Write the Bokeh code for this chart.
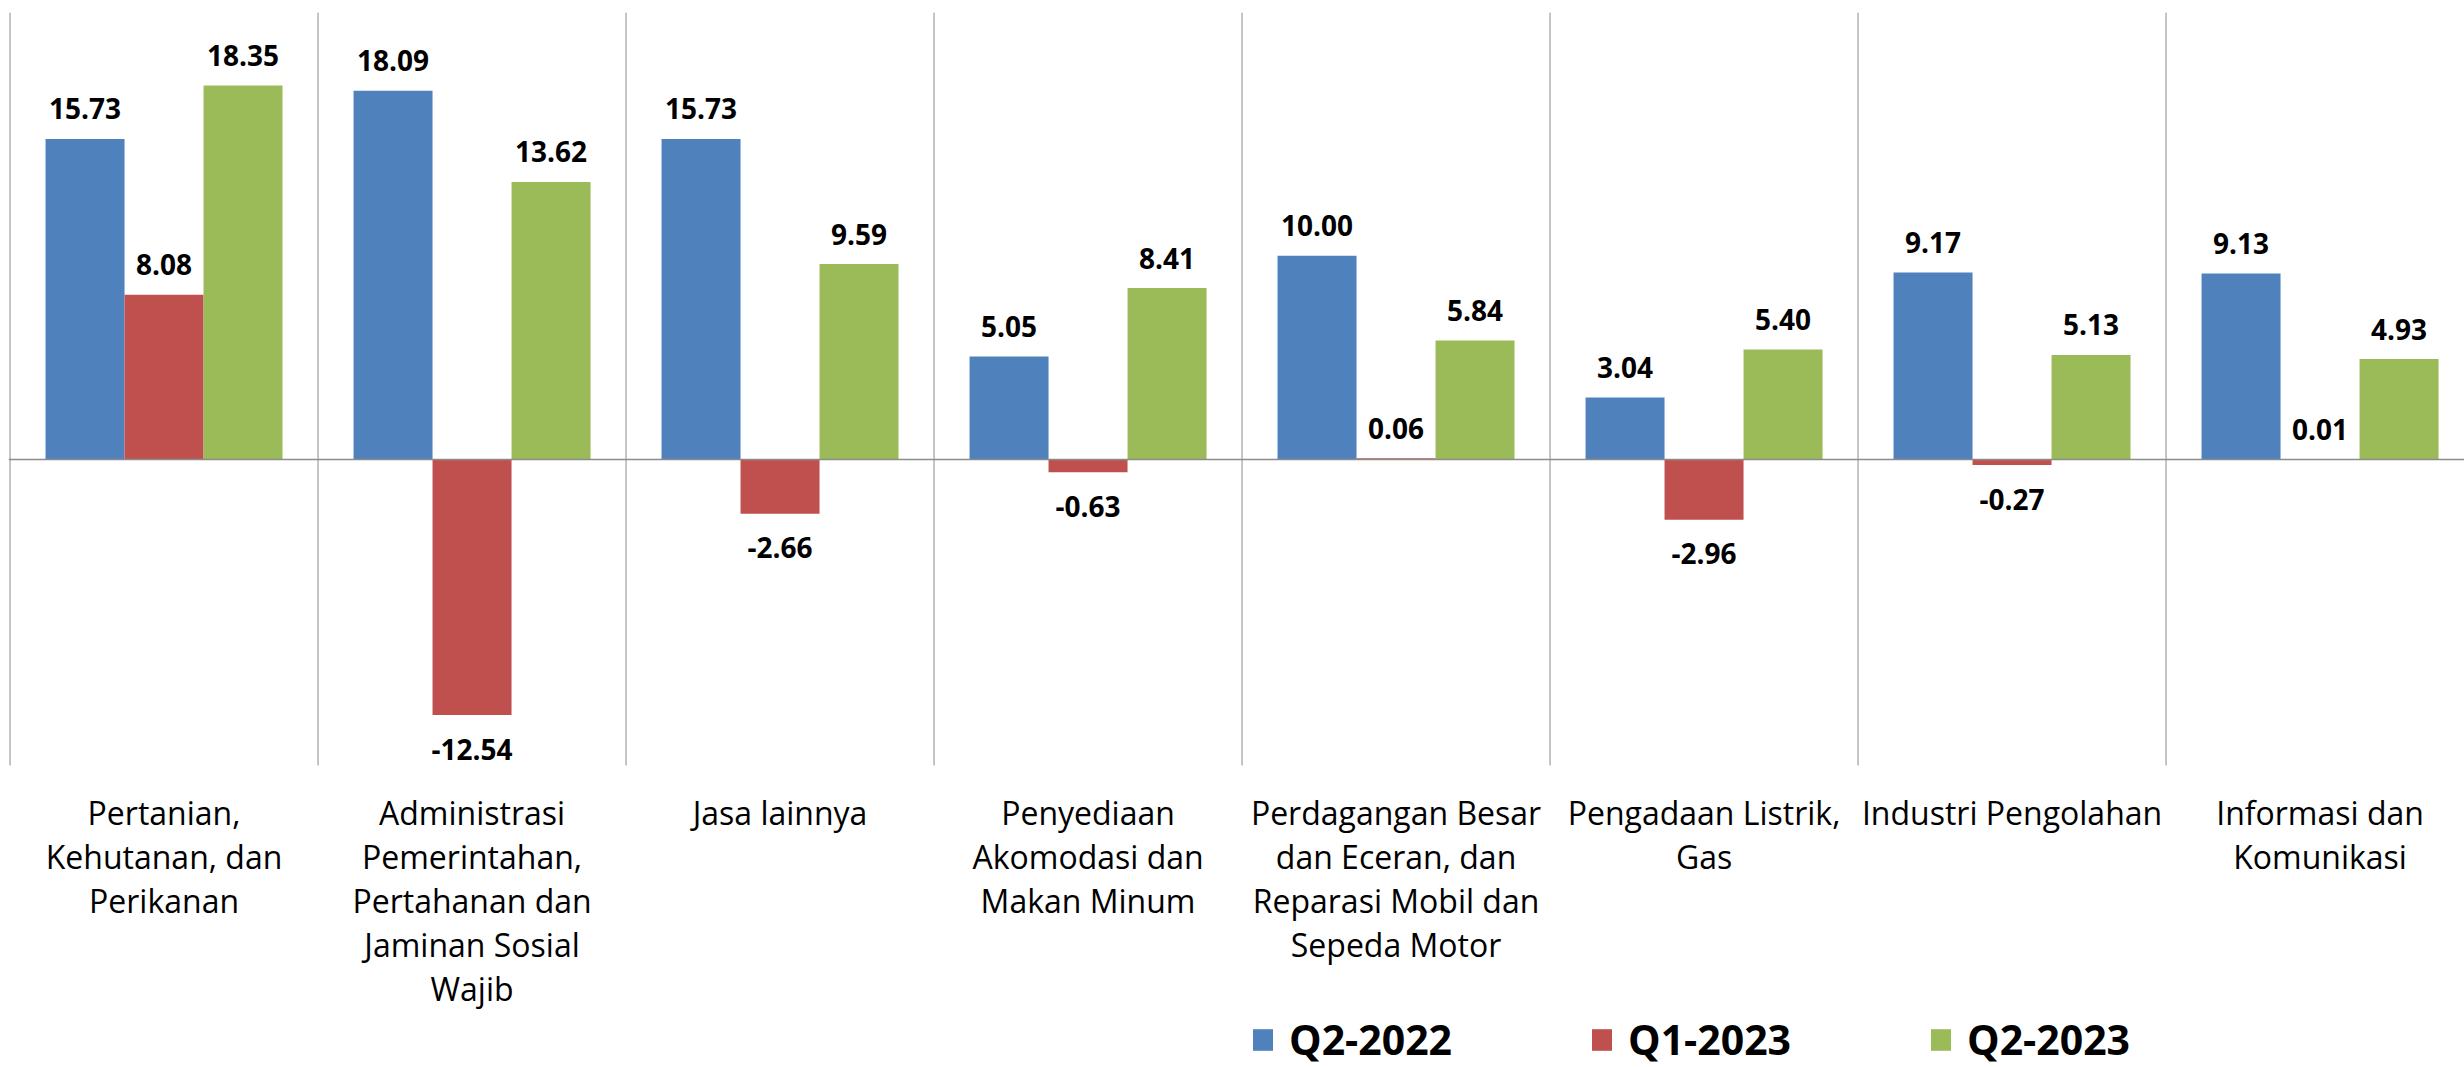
from bokeh.plotting import figure
from bokeh.models import ColumnDataSource, Legend, LegendItem, Range1d, Span
from bokeh.core.properties import value
from bokeh.embed import file_html
from bokeh.resources import INLINE

categories = [
    "Pertanian,\nKehutanan, dan\nPerikanan",
    "Administrasi\nPemerintahan,\nPertahanan dan\nJaminan Sosial\nWajib",
    "Jasa lainnya",
    "Penyediaan\nAkomodasi dan\nMakan Minum",
    "Perdagangan Besar\ndan Eceran, dan\nReparasi Mobil dan\nSepeda Motor",
    "Pengadaan Listrik,\nGas",
    "Industri Pengolahan",
    "Informasi dan\nKomunikasi",
]
series_names = ["Q2-2022", "Q1-2023", "Q2-2023"]
q2_2022 = [15.73, 18.09, 15.73, 5.05, 10.00, 3.04, 9.17, 9.13]
q1_2023 = [8.08, -12.54, -2.66, -0.63, 0.06, -2.96, -0.27, 0.01]
q2_2023 = [18.35, 13.62, 9.59, 8.41, 5.84, 5.40, 5.13, 4.93]
series_values = [q2_2022, q1_2023, q2_2023]
colors = ["#4F81BD", "#C0504D", "#9BBB59"]

# value-axis extent of the plotting area
Y_MIN, Y_MAX = -15.01, 21.93

FONT = "Open Sans"
W, H = 2464, 1067
LEFT = 8
CAT_PX = 308.0
PX_PER_UNIT = 20.38
ZERO_PX = 459.0
BAR_W = 0.2565
GRID = "#8C8C8C"

p = figure(
    width=W, height=H, output_backend="svg", toolbar_location=None,
    x_range=Range1d(0.495, 0.495 + (W - LEFT) / CAT_PX),
    y_range=Range1d(-(H - ZERO_PX) / PX_PER_UNIT, ZERO_PX / PX_PER_UNIT),
    x_axis_location=None, y_axis_location=None,
    min_border_left=LEFT, min_border_right=0, min_border_top=0, min_border_bottom=0,
    outline_line_color=None,
)
p.grid.visible = False

# category separators (and left axis line)
n = len(categories)
bounds = [0.5 + i for i in range(n + 1)]
p.segment(x0=bounds, x1=bounds, y0=[Y_MIN] * len(bounds), y1=[Y_MAX] * len(bounds),
          line_color=GRID, line_width=1)

renderers = []
for k, (name, vals, col) in enumerate(zip(series_names, series_values, colors)):
    off = (k - 1) * BAR_W
    xs = [i + 1 + off for i in range(len(vals))]
    src = ColumnDataSource(dict(
        x=xs, top=vals,
        label=[f"{v:.2f}" for v in vals],
        yoff=[-30 if v >= 0 else 34 for v in vals],
    ))
    r = p.vbar(x="x", top="top", bottom=0, width=BAR_W, source=src,
               fill_color=col, line_color=None)
    renderers.append(r)
    p.text(x="x", y="top", text="label", source=src, y_offset="yoff",
           text_align="center", text_baseline="middle",
           text_font=value(FONT), text_font_style="bold",
           text_font_size="28px", text_color="#000000")

# zero (category axis) line
p.add_layout(Span(location=0, dimension="width", line_color=GRID, line_width=1.5))

# category labels below the plotting area
cat_src = ColumnDataSource(dict(x=[i + 1 for i in range(n)], y=[Y_MIN] * n, text=categories))
p.text(x="x", y="y", text="text", source=cat_src, y_offset=26,
       text_align="center", text_baseline="top",
       text_font=value(FONT), text_font_size="32px", text_color="#000000",
       text_line_height=1.02)

legend = Legend(
    items=[LegendItem(label=nm, renderers=[r]) for nm, r in zip(series_names, renderers)],
    orientation="horizontal", location=(1242, 0),
    border_line_color=None, background_fill_alpha=0,
    padding=0, margin=0, spacing=128,
    glyph_width=25, glyph_height=27, label_standoff=14, label_width=172,
    label_text_font=FONT, label_text_font_size="41px", label_text_font_style="bold",
    label_text_color="#000000",
)
p.add_layout(legend)

open("out.html", "w").write(file_html(p, INLINE))
